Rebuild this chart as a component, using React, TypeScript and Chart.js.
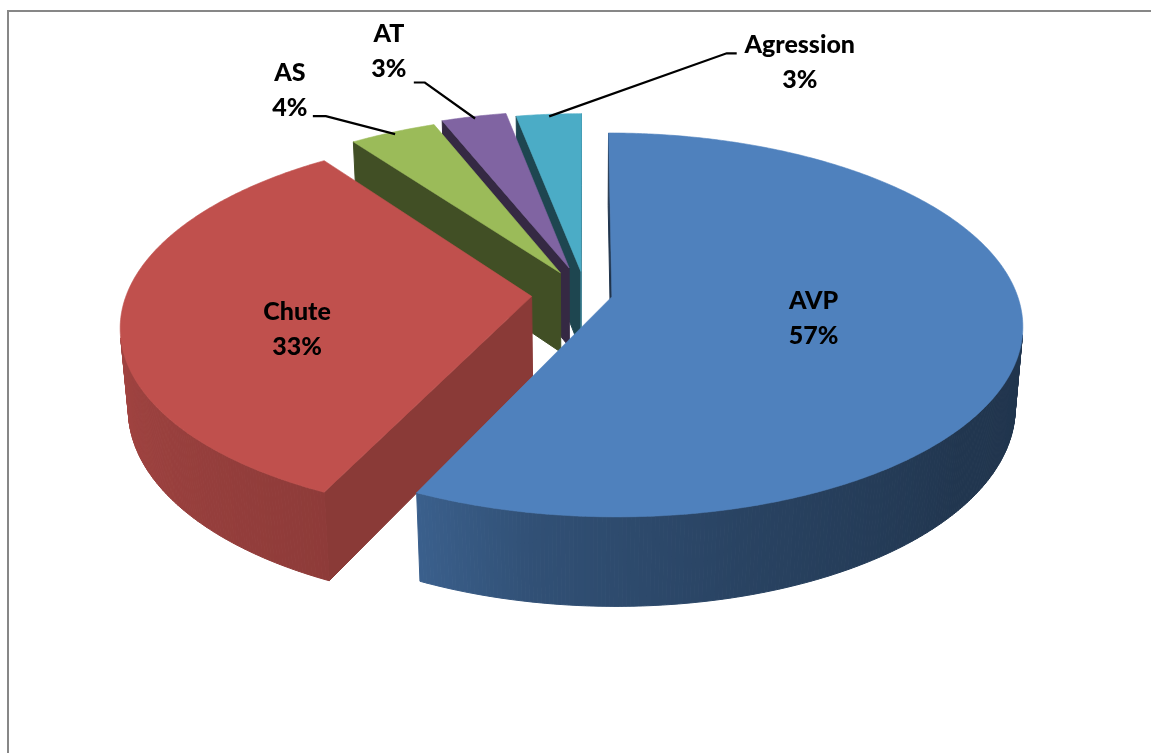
import React, { useEffect, useRef } from 'react';
import { Chart, registerables } from 'chart.js';

Chart.register(...registerables);

// ---- data ----
const categories = ['AVP', 'Chute', 'AS', 'AT', 'Agression'];
const shares = [57, 33, 4, 3, 3];

// ---- styling ----
const sliceColors = ['#4F81BD', '#C0504D', '#9BBB59', '#8064A2', '#4BACC6'];
const sliceOffsets = [27, 54, 53, 60, 50]; // explode distance of each slice (pie pixels)

// 3D view of the pie
const PIE_RADIUS = 405;
const TILT = (27.5 * Math.PI) / 180; // camera elevation
const VIEW_DIST = 2450; // camera distance (perspective strength)
const THICKNESS = 92; // pie height

// lighting by outward normal direction (degrees, 0 = right, 90 = toward viewer)
const WALL_LIGHT: [number, number][] = [
  [-180, 0.86], [-90, 0.6], [0, 0.4], [40, 0.42], [75, 0.52], [100, 0.62], [115, 0.74], [180, 0.86],
];
const RADIAL_LIGHT: [number, number][] = [
  [-180, 0.4], [-90, 0.6], [0, 0.72], [25, 0.72], [144, 0.42], [180, 0.4],
];

// label placement: inside labels sit on the top face, outside labels hang on a leader line
type LabelPlacement =
  | { kind: 'inside'; r: number; dx: number; dy: number }
  | { kind: 'outside'; dx: number; dy: number; knee: [number, number]; end: [number, number] };
const labelPlacement: LabelPlacement[] = [
  { kind: 'inside', r: 0.5, dx: 0, dy: 0 },
  { kind: 'inside', r: 0.58, dx: 2, dy: 22 },
  { kind: 'outside', dx: -103, dy: -43, knee: [-67, -16], end: [-80, -16] },
  { kind: 'outside', dx: -85, dy: -66, knee: [-49, -34], end: [-60, -34] },
  { kind: 'outside', dx: 251, dy: -53, knee: [178, -61], end: [188, -61] },
];
const LABEL_FONT = '900 25px Lato, "Open Sans", sans-serif';
const LINE_GAP = 35;
const CAP_HALF = 9;

type Pt = [number, number];

function interp(table: [number, number][], x: number) {
  if (x <= table[0][0]) return table[0][1];
  for (let i = 1; i < table.length; i++) {
    if (x <= table[i][0]) {
      const [x0, y0] = table[i - 1];
      const [x1, y1] = table[i];
      return y0 + ((y1 - y0) * (x - x0)) / (x1 - x0);
    }
  }
  return table[table.length - 1][1];
}

function shade(hex: string, f: number) {
  const n = parseInt(hex.slice(1), 16);
  const r = Math.min(255, Math.round(((n >> 16) & 255) * f));
  const g = Math.min(255, Math.round(((n >> 8) & 255) * f));
  const b = Math.min(255, Math.round((n & 255) * f));
  return `rgb(${r},${g},${b})`;
}

function normDeg(rad: number) {
  const d = (rad * 180) / Math.PI;
  return ((((d + 180) % 360) + 360) % 360) - 180;
}

function signedArea(pts: Pt[]) {
  let s = 0;
  for (let i = 0; i < pts.length; i++) {
    const [x0, y0] = pts[i];
    const [x1, y1] = pts[(i + 1) % pts.length];
    s += x0 * y1 - x1 * y0;
  }
  return s / 2;
}

function fillPoly(ctx: CanvasRenderingContext2D, pts: Pt[], color: string, edge = 0.8) {
  ctx.beginPath();
  ctx.moveTo(pts[0][0], pts[0][1]);
  for (let i = 1; i < pts.length; i++) ctx.lineTo(pts[i][0], pts[i][1]);
  ctx.closePath();
  ctx.fillStyle = color;
  ctx.fill();
  if (edge > 0) {
    ctx.strokeStyle = color;
    ctx.lineWidth = edge;
    ctx.lineJoin = 'round';
    ctx.stroke();
  }
}

const pie3d = {
  id: 'pie3d',
  beforeDatasetsDraw(chart: any) {
    const meta = chart.getDatasetMeta(0);
    const ctx: CanvasRenderingContext2D = chart.ctx;
    const ca = Math.cos(TILT);
    const sa = Math.sin(TILT);

    const slices = meta.data.map((arc: any, i: number) => {
      const p = arc.getProps(['x', 'y', 'startAngle', 'endAngle', 'outerRadius'], true);
      const off = arc.options.offset || 0;
      const mid = (p.startAngle + p.endAngle) / 2;
      return { i, ...p, mid, ox: Math.cos(mid) * off, oy: Math.sin(mid) * off };
    });
    const cx = slices[0].x;
    const cy = slices[0].y;

    // perspective projection of a point on the pie plane (u right, v toward viewer, w up)
    const P = (u: number, v: number, w: number): Pt => {
      const s = VIEW_DIST / (VIEW_DIST - v * ca - w * sa);
      return [cx + u * s, cy + (v * sa - w * ca) * s];
    };

    ctx.save();
    const order = [...slices].sort((a, b) => Math.sin(a.mid) - Math.sin(b.mid));
    for (const s of order) {
      const color = sliceColors[s.i];
      const R = s.outerRadius;
      const rim = (a: number, w: number): Pt => P(s.ox + Math.cos(a) * R, s.oy + Math.sin(a) * R, w);
      const apexT = P(s.ox, s.oy, 0);
      const apexB = P(s.ox, s.oy, -THICKNESS);
      const a0 = s.startAngle;
      const a1 = s.endAngle;

      const faces: { pts: Pt[]; light: number }[] = [];
      faces.push({
        pts: [apexT, rim(a0, 0), rim(a0, -THICKNESS), apexB],
        light: interp(RADIAL_LIGHT, normDeg(a0 - Math.PI / 2)),
      });
      faces.push({
        pts: [apexT, apexB, rim(a1, -THICKNESS), rim(a1, 0)],
        light: interp(RADIAL_LIGHT, normDeg(a1 + Math.PI / 2)),
      });
      const n = Math.max(2, Math.ceil((a1 - a0) / ((0.5 * Math.PI) / 180)));
      for (let k = 0; k < n; k++) {
        const b0 = a0 + ((a1 - a0) * k) / n;
        const b1 = a0 + ((a1 - a0) * (k + 1)) / n;
        faces.push({
          pts: [rim(b0, 0), rim(b1, 0), rim(b1, -THICKNESS), rim(b0, -THICKNESS)],
          light: interp(WALL_LIGHT, normDeg((b0 + b1) / 2)),
        });
      }
      for (const f of faces) {
        if (signedArea(f.pts) < 0) fillPoly(ctx, f.pts, shade(color, f.light), 1);
      }

      const topPts: Pt[] = [apexT];
      for (let k = 0; k <= n; k++) topPts.push(rim(a0 + ((a1 - a0) * k) / n, 0));
      fillPoly(ctx, topPts, color, 0.6);
    }

    // data labels
    const total = shares.reduce((a, b) => a + b, 0);
    ctx.font = LABEL_FONT;
    ctx.fillStyle = '#000';
    ctx.textAlign = 'center';
    ctx.textBaseline = 'alphabetic';
    for (const s of slices) {
      const lp = labelPlacement[s.i];
      const text = [categories[s.i], `${Math.round((shares[s.i] / total) * 100)}%`];
      let lx: number;
      let ly: number;
      if (lp.kind === 'inside') {
        const r = s.outerRadius * lp.r;
        const q = P(s.ox + Math.cos(s.mid) * r, s.oy + Math.sin(s.mid) * r, 0);
        lx = q[0] + lp.dx;
        ly = q[1] + lp.dy;
      } else {
        const R = s.outerRadius;
        const edge = P(s.ox + Math.cos(s.mid) * R, s.oy + Math.sin(s.mid) * R, 0);
        const start = P(s.ox + Math.cos(s.mid) * R * 0.985, s.oy + Math.sin(s.mid) * R * 0.985, 0);
        ctx.beginPath();
        ctx.moveTo(start[0], start[1]);
        ctx.lineTo(edge[0] + lp.knee[0], edge[1] + lp.knee[1]);
        ctx.lineTo(edge[0] + lp.end[0], edge[1] + lp.end[1]);
        ctx.strokeStyle = '#000';
        ctx.lineWidth = 2.2;
        ctx.lineJoin = 'miter';
        ctx.stroke();
        lx = edge[0] + lp.dx;
        ly = edge[1] + lp.dy;
      }
      ctx.fillText(text[0], lx, ly - LINE_GAP / 2 + CAP_HALF);
      ctx.fillText(text[1], lx, ly + LINE_GAP / 2 + CAP_HALF);
    }
    ctx.restore();
    return false;
  },
};

export default function App() {
  const canvasRef = useRef<HTMLCanvasElement>(null);

  useEffect(() => {
    const chart = new Chart(canvasRef.current as HTMLCanvasElement, {
      type: 'pie',
      data: {
        labels: categories,
        datasets: [
          {
            data: shares,
            backgroundColor: sliceColors,
            borderWidth: 0,
            offset: sliceOffsets,
          } as any,
        ],
      },
      options: {
        responsive: false,
        animation: false,
        events: [],
        radius: PIE_RADIUS,
        layout: { padding: { left: 20, right: 0, top: 0, bottom: 165 } },
        plugins: {
          legend: { display: false },
          tooltip: { enabled: false },
        },
      } as any,
      plugins: [pie3d],
    });
    return () => chart.destroy();
  }, []);

  return (
    <div
      style={{
        position: 'fixed',
        left: 0,
        top: 0,
        width: 1151,
        height: 753,
        background: '#ffffff',
        overflow: 'hidden',
      }}
    >
      <div
        style={{
          position: 'absolute',
          left: 7,
          top: 10,
          width: 1300,
          height: 900,
          borderLeft: '2px solid #878787',
          borderTop: '2px solid #878787',
        }}
      />
      <canvas
        ref={canvasRef}
        width={1151}
        height={753}
        style={{ position: 'absolute', left: 0, top: 0 }}
      />
    </div>
  );
}
